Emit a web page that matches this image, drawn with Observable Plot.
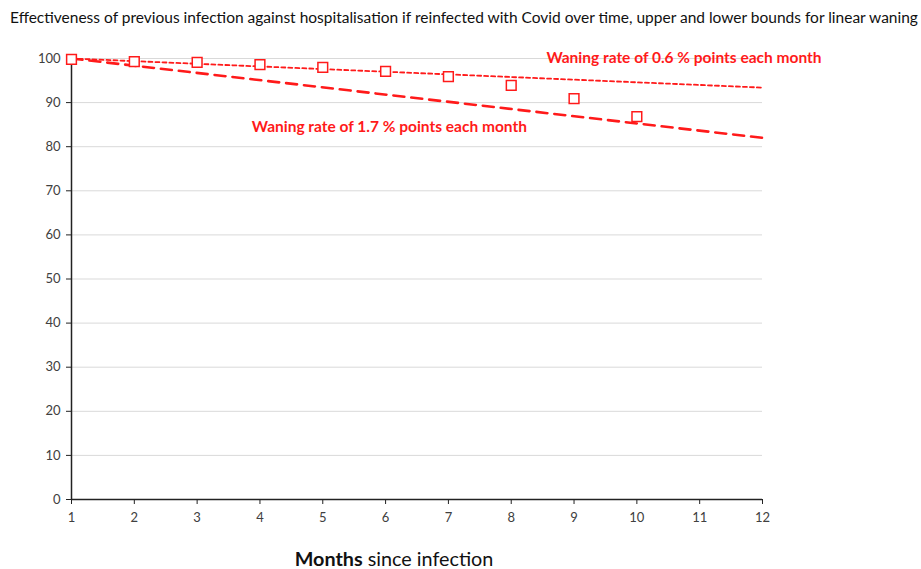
<!DOCTYPE html>
<html><head><meta charset="utf-8">
<script src="https://cdn.jsdelivr.net/npm/d3@7"></script>
<script src="https://cdn.jsdelivr.net/npm/@observablehq/plot@0.6"></script>
<style>
body{margin:0;background:#fff;font-family:Lato, sans-serif;}
#wrap{position:relative;width:921px;height:569px;overflow:hidden;}
#title{position:absolute;left:10px;top:7px;font-size:15.5px;line-height:20px;color:#111;white-space:nowrap;}
#xlabel{position:absolute;left:0;width:788px;text-align:center;top:546px;font-size:19.8px;line-height:24px;color:#111;}
#chart{position:absolute;left:0;top:35px;}
</style></head>
<body>
<div id="wrap">
<div id="title">Effectiveness of previous infection against hospitalisation if reinfected with Covid over time, upper and lower bounds for linear waning</div>
<div id="chart"></div>
<div id="xlabel"><b>Months</b> since infection</div>
</div>
<script>
const months = [1, 2, 3, 4, 5, 6, 7, 8, 9, 10];
const effectiveness = [99.8, 99.3, 99.1, 98.6, 98.0, 97.1, 95.9, 93.9, 90.9, 86.8];
const trendMonths = [1, 12];
const upperBound = [100, 93.4];
const lowerBound = [100, 82.0];
const xTicks = [1, 2, 3, 4, 5, 6, 7, 8, 9, 10, 11, 12];
const yTicks = [0, 10, 20, 30, 40, 50, 60, 70, 80, 90, 100];
const noteText = ["Waning rate of 0.6 % points each month", "Waning rate of 1.7 % points each month"];
const noteMonth = [8.56, 3.87];
const noteValue = [100, 84.4];

const observed = months.map((m, i) => ({month: m, value: effectiveness[i]}));
const trend = trendMonths.map((m, i) => ({month: m, upper: upperBound[i], lower: lowerBound[i]}));
const notes = noteText.map((t, i) => ({text: t, month: noteMonth[i], value: noteValue[i]}));

const red = "#ff1a1a";
const chart = Plot.plot({
  width: 921,
  height: 505,
  marginTop: 23,
  marginBottom: 41,
  marginLeft: 71,
  marginRight: 159,
  style: {fontFamily: "Lato, sans-serif", fontSize: "13px", background: "#fff"},
  x: {domain: [1, 12], label: null},
  y: {domain: [0, 100], label: null},
  marks: [
    Plot.gridY(yTicks, {stroke: "#d9d9d9", strokeOpacity: 1, strokeWidth: 1}),
    Plot.axisY(yTicks, {tickSize: 5, tickPadding: 6, fontSize: 13, fill: "#404040", stroke: "#222", label: null}),
    Plot.axisX(xTicks, {tickSize: 5, tickPadding: 8, fontSize: 13, fill: "#404040", stroke: "#222", label: null}),
    Plot.ruleX([1], {stroke: "#222", strokeWidth: 1.5}),
    Plot.ruleY([0], {stroke: "#222", strokeWidth: 1.5}),
    Plot.line(trend, {x: "month", y: "upper", stroke: red, strokeWidth: 1.8, strokeDasharray: "4,3"}),
    Plot.line(trend, {x: "month", y: "lower", stroke: red, strokeWidth: 2.6, strokeDasharray: "11,7"}),
    Plot.dot(observed, {x: "month", y: "value", symbol: "square", r: 5.5, stroke: red, fill: "white", strokeWidth: 1.5}),
    Plot.text(notes, {x: "month", y: "value", text: "text", textAnchor: "start", fill: red, fontWeight: "bold", fontSize: 15.5, clip: false})
  ]
});
document.getElementById("chart").appendChild(chart);
</script>
</body></html>
